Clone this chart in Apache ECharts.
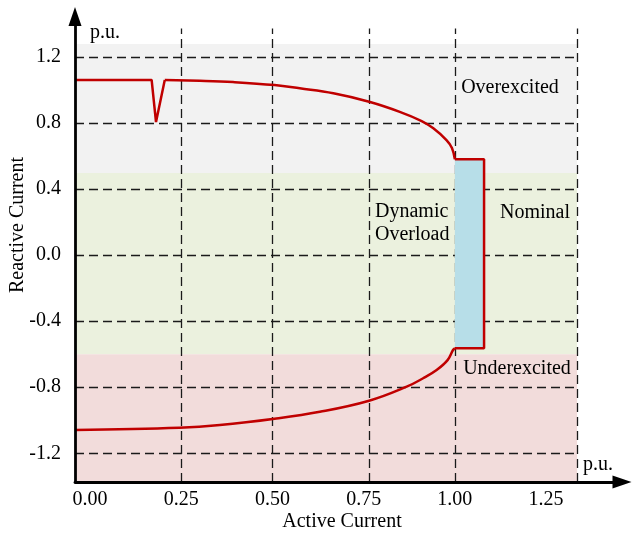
<!DOCTYPE html>
<html>
<head>
<meta charset="utf-8">
<script src="https://cdn.jsdelivr.net/npm/echarts@6/dist/echarts.min.js"></script>
<style>
  html, body { margin: 0; padding: 0; background: #fff; }
  #chart { width: 632px; height: 534px; }
</style>
</head>
<body>
<div id="chart"></div>
<script>
// tick labels
const xTicks = [0, 0.25, 0.5, 0.75, 1.0, 1.25];
const yTicks = [-1.2, -0.8, -0.4, 0, 0.4, 0.8, 1.2];

// dashed guide lines (data units)
const xGuides = [0.25, 0.5, 0.765, 1.0, 1.335];
const yGuides = [-1.2, -0.8, -0.4, 0, 0.4, 0.8, 1.2];
const guideTop = 1.372;

// operating regions, [yFrom, yTo], right edge at regionRight
const regionNames = ['Overexcited', 'Nominal', 'Underexcited'];
const regionBounds = [[0.496, 1.277], [-0.6, 0.496], [-1.374, -0.6]];
const regionRight = 1.335;

// upper limit: flat part with the dip
const dipX = [-0.041, 0.169, 0.181, 0.205];
const dipY = [1.06, 1.06, 0.805, 1.06];

// upper limit (overexcited) curve
const upperX = [0.205, 0.301, 0.392, 0.506, 0.575, 0.667, 0.765, 0.849, 0.909, 0.941, 0.977, 0.992, 1.0];
const upperY = [1.06, 1.055, 1.047, 1.029, 1.009, 0.979, 0.928, 0.867, 0.811, 0.767, 0.696, 0.648, 0.58];

// lower limit (underexcited) curve
const lowerX = [-0.041, 0.245, 0.356, 0.506, 0.630, 0.765, 0.868, 0.913, 0.950, 0.980, 0.995, 1.0];
const lowerY = [-1.059, -1.045, -1.029, -0.991, -0.949, -0.882, -0.797, -0.746, -0.696, -0.636, -0.575, -0.565];

// dynamic overload box
const boxX = [1.0, 1.08];
const boxY = [-0.565, 0.58];

const FONT = '"Liberation Serif", "Times New Roman", serif';
const regionColors = ['#f2f2f2', '#ebf1de', '#f2dcdb'];
const RED = '#c00000';

const X_MIN = -0.041, X_MAX = 1.458;
const Y_MIN = -1.374, Y_MAX = 1.444;

const pairs = (xs, ys) => xs.map((x, i) => [x, ys[i]]);

// 方框的三条红边
const boxEdge = [[boxX[0], boxY[1]], [boxX[1], boxY[1]], [boxX[1], boxY[0]], [boxX[0], boxY[0]]];

const dash = { color: '#1a1a1a', width: 1.3, type: [9, 5] };
const guideLines = [];
xGuides.forEach(x => guideLines.push([{ coord: [x, Y_MIN] }, { coord: [x, guideTop] }]));
yGuides.forEach(y => guideLines.push([{ coord: [X_MIN, y] }, { coord: [regionRight, y] }]));

const txt = (text, x, y, extra) => ({
  type: 'text', x: x, y: y, z: 30, silent: true,
  style: Object.assign({ text: text, font: '20px ' + FONT, fill: '#000', align: 'center', verticalAlign: 'middle' }, extra || {})
});

const redLine = (data, smooth) => ({
  type: 'line', z: 10, data: data, smooth: smooth,
  showSymbol: false, symbol: 'none', silent: true,
  lineStyle: { color: RED, width: 2.5 }
});

const axisLine = { onZero: false, symbol: ['none', 'triangle'], symbolSize: [13, 19], lineStyle: { color: '#000', width: 2.8 } };

const chart = echarts.init(document.getElementById('chart'));
chart.setOption({
  animation: false,
  backgroundColor: '#fff',
  grid: { left: 75, right: 10, top: 16.5, bottom: 52, containLabel: false, outerBoundsMode: 'none' },
  xAxis: {
    type: 'value', min: X_MIN, max: X_MAX, z: 20,
    splitLine: { show: false },
    axisTick: { show: false },
    axisLine: axisLine,
    axisLabel: { customValues: xTicks, formatter: v => v.toFixed(2), color: '#000', fontSize: 20, fontFamily: FONT, margin: 8 }
  },
  yAxis: {
    type: 'value', min: Y_MIN, max: Y_MAX, z: 20,
    splitLine: { show: false },
    axisTick: { show: false },
    axisLine: axisLine,
    axisLabel: { customValues: yTicks, formatter: v => v.toFixed(1), color: '#000', fontSize: 20, fontFamily: FONT, margin: 14 }
  },
  series: [
    {
      // 背景区域 + 虚线网格
      type: 'line', data: [], silent: true,
      markArea: {
        z: 1, silent: true,
        data: regionBounds.map((b, i) => [
          { coord: [X_MIN, b[0]], itemStyle: { color: regionColors[i] }, name: regionNames[i] },
          { coord: [regionRight, b[1]] }
        ]),
        label: { show: false }
      },
      markLine: {
        z: 5, silent: true, symbol: 'none',
        lineStyle: dash, label: { show: false },
        data: guideLines
      }
    },
    {
      // 动态过载方框
      type: 'line', data: [], silent: true,
      markArea: {
        z: 6, silent: true, label: { show: false },
        itemStyle: { color: '#b7dee8' },
        data: [[{ coord: [boxX[0], boxY[0]] }, { coord: [boxX[1], boxY[1]] }]]
      }
    },
    redLine(pairs(dipX, dipY), false),
    redLine(pairs(upperX, upperY), 0.4),
    redLine(boxEdge, false),
    redLine(pairs(lowerX, lowerY), 0.4)
  ],
  graphic: [
    txt('p.u.', 90, 33, { align: 'left' }),
    txt('p.u.', 583, 465, { align: 'left' }),
    Object.assign(txt('Reactive Current', 18, 225), { rotation: Math.PI / 2 }),
    txt('Active Current', 342, 522),
    txt('Overexcited', 510, 88),
    txt('Nominal', 535, 213),
    txt('Dynamic\nOverload', 375, 223, { align: 'left', lineHeight: 23 }),
    txt('Underexcited', 517, 369)
  ]
});
</script>
</body>
</html>
